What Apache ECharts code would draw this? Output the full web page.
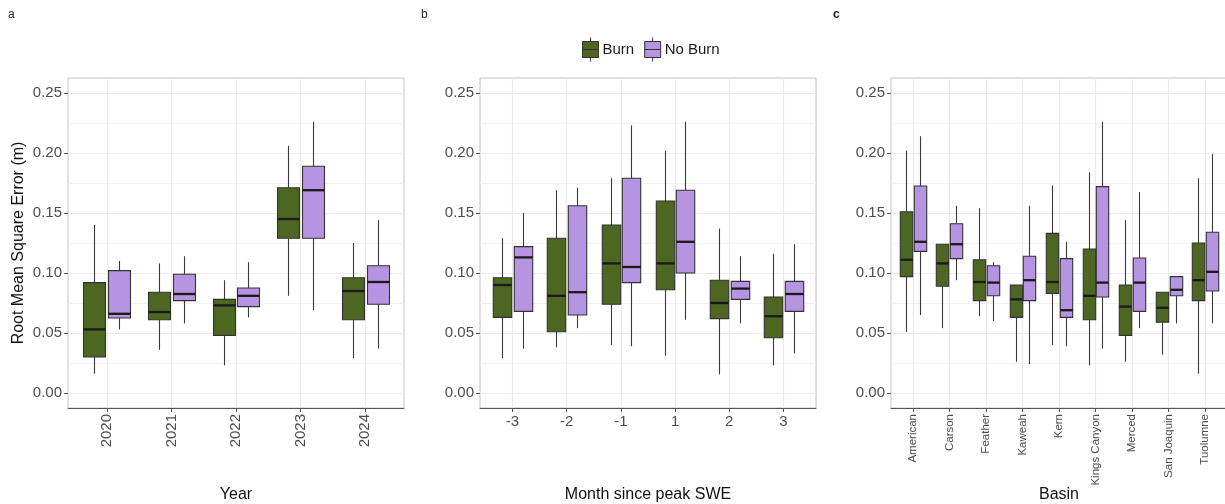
<!DOCTYPE html>
<html>
<head>
<meta charset="utf-8">
<script src="https://cdn.jsdelivr.net/npm/echarts@6/dist/echarts.min.js"></script>
<style>
html,body{margin:0;padding:0;background:#fff;}
#chart{width:1225px;height:504px;}
</style>
</head>
<body>
<div id="chart"></div>
<script>
// ---- data: each row is [lower whisker, Q1, median, Q3, upper whisker] ----
const yearCats = ['2020', '2021', '2022', '2023', '2024'];
const yearBurn = [
  [0.016, 0.030, 0.053, 0.092, 0.140],
  [0.036, 0.061, 0.0675, 0.084, 0.108],
  [0.023, 0.048, 0.073, 0.078, 0.094],
  [0.081, 0.129, 0.145, 0.171, 0.206],
  [0.029, 0.061, 0.085, 0.096, 0.125]
];
const yearNoBurn = [
  [0.053, 0.0625, 0.066, 0.102, 0.110],
  [0.058, 0.077, 0.0825, 0.099, 0.114],
  [0.063, 0.072, 0.081, 0.0875, 0.109],
  [0.069, 0.129, 0.169, 0.189, 0.226],
  [0.037, 0.074, 0.0925, 0.106, 0.144]
];

const monthCats = ['-3', '-2', '-1', '1', '2', '3'];
const monthBurn = [
  [0.029, 0.063, 0.090, 0.096, 0.129],
  [0.038, 0.051, 0.081, 0.129, 0.169],
  [0.040, 0.074, 0.108, 0.140, 0.179],
  [0.031, 0.086, 0.108, 0.160, 0.202],
  [0.0155, 0.062, 0.075, 0.094, 0.137],
  [0.023, 0.046, 0.064, 0.080, 0.116]
];
const monthNoBurn = [
  [0.037, 0.068, 0.113, 0.122, 0.150],
  [0.054, 0.065, 0.084, 0.156, 0.171],
  [0.039, 0.092, 0.105, 0.179, 0.223],
  [0.061, 0.100, 0.126, 0.169, 0.226],
  [0.058, 0.078, 0.087, 0.093, 0.114],
  [0.033, 0.068, 0.0825, 0.093, 0.124]
];

const basinCats = ['American', 'Carson', 'Feather', 'Kaweah', 'Kern', 'Kings Canyon', 'Merced', 'San Joaquin', 'Tuolumne'];
const basinBurn = [
  [0.051, 0.097, 0.111, 0.151, 0.202],
  [0.054, 0.089, 0.108, 0.124, 0.124],
  [0.064, 0.077, 0.0925, 0.111, 0.154],
  [0.026, 0.063, 0.078, 0.090, 0.090],
  [0.040, 0.083, 0.0925, 0.133, 0.173],
  [0.023, 0.061, 0.081, 0.120, 0.184],
  [0.026, 0.048, 0.072, 0.090, 0.144],
  [0.032, 0.059, 0.071, 0.084, 0.084],
  [0.016, 0.077, 0.094, 0.125, 0.179]
];
const basinNoBurn = [
  [0.065, 0.118, 0.126, 0.1725, 0.214],
  [0.094, 0.112, 0.124, 0.141, 0.156],
  [0.060, 0.081, 0.092, 0.106, 0.109],
  [0.024, 0.077, 0.094, 0.114, 0.156],
  [0.039, 0.063, 0.069, 0.112, 0.126],
  [0.037, 0.080, 0.092, 0.172, 0.226],
  [0.054, 0.068, 0.092, 0.1125, 0.1675],
  [0.058, 0.081, 0.086, 0.097, 0.097],
  [0.058, 0.085, 0.101, 0.134, 0.199]
];

const yMajorTicks = [0, 0.05, 0.10, 0.15, 0.20, 0.25];
const yMinorTicks = [0.025, 0.075, 0.125, 0.175, 0.225];
const groupNames = ['Burn', 'No Burn'];
const groupColors = ['#4d6622', '#b794e2'];

// ---- styling / layout ----
const FONT = "'Liberation Sans', Arial, sans-serif";
const BOX_W = 0.34;
const DODGE = 0.19;
const GRID_TOP = 78, GRID_H = 330;
const panels = [
  { cats: yearCats, burn: yearBurn, noburn: yearNoBurn, left: 68, title: 'Year', rotate: 90, labelSize: 15 },
  { cats: monthCats, burn: monthBurn, noburn: monthNoBurn, left: 480, title: 'Month since peak SWE', rotate: 0, labelSize: 15 },
  { cats: basinCats, burn: basinBurn, noburn: basinNoBurn, left: 891, title: 'Basin', rotate: 90, labelSize: 11.5 }
];
const PANEL_W = 336;

function boxRenderer(offset) {
  return function (params, api) {
    const x = api.value(0) + offset;
    const lo = api.coord([x, api.value(1)]);
    const q1 = api.coord([x, api.value(2)]);
    const md = api.coord([x, api.value(3)]);
    const q3 = api.coord([x, api.value(4)]);
    const hi = api.coord([x, api.value(5)]);
    const w = api.size([BOX_W, 0])[0];
    const cx = Math.round(md[0]) + 0.5;
    return {
      type: 'group',
      children: [
        { type: 'line', shape: { x1: cx, y1: hi[1], x2: cx, y2: q3[1] }, style: { stroke: '#3a3a3a', lineWidth: 1.1 } },
        { type: 'line', shape: { x1: cx, y1: q1[1], x2: cx, y2: lo[1] }, style: { stroke: '#3a3a3a', lineWidth: 1.1 } },
        { type: 'rect', shape: { x: cx - w / 2, y: q3[1], width: w, height: q1[1] - q3[1] },
          style: { fill: api.visual('color'), stroke: '#333333', lineWidth: 1.1 } },
        { type: 'line', shape: { x1: cx - w / 2, y1: md[1], x2: cx + w / 2, y2: md[1] },
          style: { stroke: '#1a1a1a', lineWidth: 2.3 } }
      ]
    };
  };
}

const grids = [], xAxes = [], yAxes = [], series = [];
panels.forEach((p, i) => {
  const n = p.cats.length;
  const pos = p.cats.map((c, k) => k + 1);
  grids.push({ left: p.left, top: GRID_TOP, width: PANEL_W, height: GRID_H,
    show: true, borderColor: '#c4c4c4', borderWidth: 1, backgroundColor: 'transparent',
    containLabel: false, outerBoundsMode: 'none' });
  xAxes.push({
    type: 'value', gridIndex: i, min: 0.4, max: n + 0.6,
    name: p.title, nameLocation: 'middle', nameGap: 79, nameMoveOverlap: false,
    nameTextStyle: { fontFamily: FONT, fontSize: 16, color: '#111' },
    axisLine: { show: true, onZero: false, lineStyle: { color: '#555', width: 1 } },
    axisTick: { show: true, length: 4, customValues: pos, lineStyle: { color: '#555' } },
    axisLabel: { customValues: pos, rotate: p.rotate, margin: 6, color: '#4d4d4d', fontFamily: FONT, fontSize: p.labelSize,
      formatter: v => p.cats[Math.round(v) - 1] },
    splitLine: { show: true, lineStyle: { color: '#ebebeb', width: 1.2 } }
  });
  // major y axis
  yAxes.push({
    type: 'value', gridIndex: i, min: -0.0125, max: 0.2625,
    name: i === 0 ? 'Root Mean Square Error (m)' : '', nameLocation: 'middle', nameGap: 41, nameMoveOverlap: false,
    nameTextStyle: { fontFamily: FONT, fontSize: 16, color: '#111' },
    axisLine: { show: false },
    axisTick: { show: true, length: 4, customValues: yMajorTicks, lineStyle: { color: '#555' } },
    axisLabel: { customValues: yMajorTicks, margin: 6, color: '#4d4d4d', fontFamily: FONT, fontSize: 15,
      formatter: v => v.toFixed(2) },
    splitLine: { show: true, lineStyle: { color: '#ebebeb', width: 1.2 } }
  });
  // minor y axis (grid lines only)
  yAxes.push({
    type: 'value', gridIndex: i, min: -0.0125, max: 0.2625, position: 'left',
    axisLine: { show: false },
    axisTick: { show: false, customValues: yMinorTicks },
    axisLabel: { show: false, customValues: yMinorTicks },
    splitLine: { show: true, lineStyle: { color: '#f2f2f2', width: 1 } }
  });
  [p.burn, p.noburn].forEach((rows, g) => {
    series.push({
      type: 'custom', name: groupNames[g],
      xAxisIndex: i, yAxisIndex: i * 2,
      itemStyle: { color: groupColors[g] },
      renderItem: boxRenderer(g === 0 ? -DODGE : DODGE),
      encode: { x: 0, y: [1, 2, 3, 4, 5] },
      data: rows.map((r, k) => [k + 1].concat(r)),
      z: 5
    });
  });
});

const chart = echarts.init(document.getElementById('chart'), null, { renderer: 'canvas' });
chart.setOption({
  animation: false,
  backgroundColor: '#fff',
  textStyle: { fontFamily: FONT },
  title: [
    { text: 'a', left: 3, top: 4, textStyle: { fontFamily: FONT, fontSize: 12, fontWeight: 'normal', color: '#222' } },
    { text: 'b', left: 416, top: 4, textStyle: { fontFamily: FONT, fontSize: 12, fontWeight: 'normal', color: '#222' } },
    { text: 'c', left: 828, top: 4, textStyle: { fontFamily: FONT, fontSize: 12, fontWeight: 'bold', color: '#222' } }
  ],
  legend: {
    data: groupNames, left: 577, top: 32, orient: 'horizontal',
    itemWidth: 16, itemHeight: 24, itemGap: 10,
    icon: 'path://M0,4L16,4L16,20L0,20Z M0,12L16,12 M8,0L8,4 M8,20L8,24',
    itemStyle: { borderColor: '#333', borderWidth: 1 },
    textStyle: { fontFamily: FONT, fontSize: 15, color: '#1a1a1a', padding: [0, 0, 0, -1] }
  },
  grid: grids,
  xAxis: xAxes,
  yAxis: yAxes,
  series: series
});
</script>
</body>
</html>
